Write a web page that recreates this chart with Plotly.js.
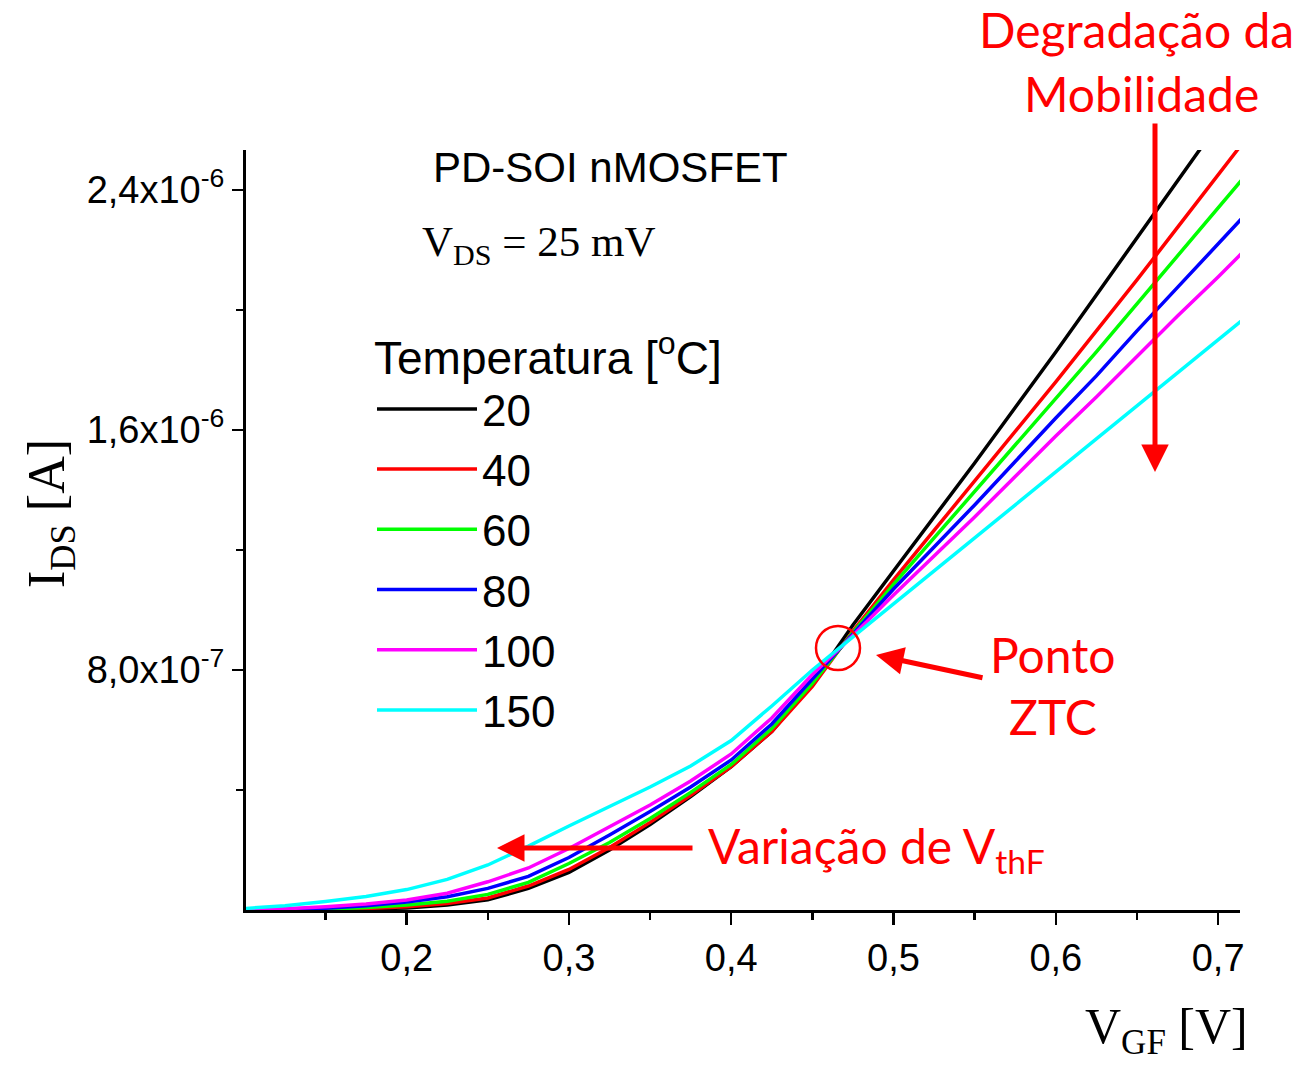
<!DOCTYPE html>
<html>
<head>
<meta charset="utf-8">
<script src="https://cdn.plot.ly/plotly-3.0.1.min.js"></script>
<style>
html,body{margin:0;padding:0;background:#fff;}
#chart{width:1306px;height:1074px;}
</style>
</head>
<body>
<div id="chart"></div>
<script>
// ---- data ----
const vgf = [0.100,0.125,0.150,0.175,0.200,0.225,0.250,0.275,0.300,0.325,0.350,0.375,0.400,
             0.425,0.450,0.475,0.500,0.525,0.550,0.575,0.600,0.625,0.650,0.675,0.700,0.725];

const temperatures = ['20','40','60','80','100','150'];

const ids_20  = [0,0,0.01e-7,0.03e-7,0.07e-7,0.17e-7,0.34e-7,0.72e-7,1.25e-7,2.00e-7,2.85e-7,3.78e-7,4.78e-7,
                 5.95e-7,7.55e-7,9.50e-7,11.3e-7,13.1e-7,14.9e-7,16.75e-7,18.6e-7,20.5e-7,22.4e-7,24.3e-7,26.2e-7,28.1e-7];
const ids_40  = [0,0,0.02e-7,0.05e-7,0.11e-7,0.22e-7,0.40e-7,0.80e-7,1.35e-7,2.08e-7,2.92e-7,3.82e-7,4.78e-7,
                 5.95e-7,7.45e-7,9.30e-7,11.0e-7,12.65e-7,14.3e-7,15.95e-7,17.6e-7,19.3e-7,21.0e-7,22.75e-7,24.5e-7,26.25e-7];
const ids_60  = [0,0.01e-7,0.03e-7,0.08e-7,0.17e-7,0.29e-7,0.52e-7,0.92e-7,1.55e-7,2.25e-7,3.05e-7,3.92e-7,4.85e-7,
                 6.05e-7,7.55e-7,9.25e-7,10.85e-7,12.4e-7,13.95e-7,15.5e-7,17.05e-7,18.6e-7,20.2e-7,21.8e-7,23.4e-7,25.0e-7];
const ids_80  = [0,0.02e-7,0.06e-7,0.14e-7,0.27e-7,0.44e-7,0.72e-7,1.12e-7,1.75e-7,2.50e-7,3.28e-7,4.10e-7,5.00e-7,
                 6.20e-7,7.70e-7,9.20e-7,10.7e-7,12.1e-7,13.5e-7,14.95e-7,16.4e-7,17.8e-7,19.3e-7,20.75e-7,22.2e-7,23.65e-7];
const ids_100 = [0,0.04e-7,0.11e-7,0.20e-7,0.33e-7,0.56e-7,0.94e-7,1.40e-7,2.05e-7,2.78e-7,3.50e-7,4.30e-7,5.20e-7,
                 6.40e-7,7.85e-7,9.15e-7,10.5e-7,11.8e-7,13.1e-7,14.45e-7,15.8e-7,17.1e-7,18.45e-7,19.8e-7,21.1e-7,22.45e-7];
const ids_150 = [0.05e-7,0.14e-7,0.28e-7,0.45e-7,0.68e-7,1.02e-7,1.50e-7,2.13e-7,2.80e-7,3.45e-7,4.10e-7,4.80e-7,5.65e-7,
                 6.80e-7,8.00e-7,9.10e-7,10.2e-7,11.3e-7,12.4e-7,13.5e-7,14.6e-7,15.7e-7,16.8e-7,17.9e-7,19.0e-7,20.1e-7];

const xTickVals = [0.2,0.3,0.4,0.5,0.6,0.7];
const xTickText = ['0,2','0,3','0,4','0,5','0,6','0,7'];
const yTickVals = [8e-7,1.6e-6,2.4e-6];
const yTickText = ['8,0x10<sup>-7</sup>','1,6x10<sup>-6</sup>','2,4x10<sup>-6</sup>'];
const yMinorVals = [4e-7,1.2e-6,2.0e-6];

// ---- styles ----
const seriesColors = ['#000000','#ff0000','#00ff00','#0000ff','#ff00ff','#00ffff'];
const allIds = [ids_20, ids_40, ids_60, ids_80, ids_100, ids_150];

const traces = allIds.map((ys,i)=>({
  type:'scatter', mode:'lines', x:vgf, y:ys, name:temperatures[i],
  line:{color:seriesColors[i], width:3.5}
}));

// plot area in pixels
const L=246, R=1240, T=150, B=910;
function px(x){return (x-L)/(R-L);}
function py(y){return (B-y)/(B-T);}

const sans = 'Liberation Sans, Arial, sans-serif';
const serif = 'Liberation Serif, Times New Roman, serif';
const redFont = 'Lato, Carlito, Calibri, sans-serif';
const RED = '#ff0000';

const annotations = [
  {xref:'paper',yref:'paper',x:px(610),y:py(168),xanchor:'center',yanchor:'middle',showarrow:false,
   text:'PD-SOI nMOSFET',font:{family:sans,size:42,color:'#000'}},
  {xref:'paper',yref:'paper',x:px(420),y:py(245),xanchor:'left',yanchor:'middle',showarrow:false,
   text:'V<sub>DS</sub> = 25 mV',font:{family:serif,size:43,color:'#000'}},
  // axis titles
  {xref:'paper',yref:'paper',x:px(1250),y:py(1030),xanchor:'right',yanchor:'middle',showarrow:false,
   text:'V<sub>GF</sub> [V]',font:{family:serif,size:50,color:'#000'}},
  {xref:'paper',yref:'paper',x:px(50),y:py(514),xanchor:'center',yanchor:'middle',showarrow:false,textangle:-90,
   text:'I<sub>DS</sub> [A]',font:{family:serif,size:52,color:'#000'}},
  // red annotations
  {xref:'paper',yref:'paper',x:px(1136),y:py(30),xanchor:'center',yanchor:'middle',showarrow:false,
   text:'Degradação da',font:{family:redFont,size:48,color:RED}},
  {xref:'paper',yref:'paper',x:px(1141),y:py(93),xanchor:'center',yanchor:'middle',showarrow:false,
   text:'Mobilidade',font:{family:redFont,size:48,color:RED}},
  {xref:'paper',yref:'paper',x:px(1053),y:py(654),xanchor:'center',yanchor:'middle',showarrow:false,
   text:'Ponto',font:{family:redFont,size:48,color:RED}},
  {xref:'paper',yref:'paper',x:px(1053),y:py(716),xanchor:'center',yanchor:'middle',showarrow:false,
   text:'ZTC',font:{family:redFont,size:48,color:RED}},
  {xref:'paper',yref:'paper',x:px(706),y:py(849),xanchor:'left',yanchor:'middle',showarrow:false,
   text:'Variação de V<sub>thF</sub>',font:{family:redFont,size:48,color:RED}},
  // arrows
  {xref:'paper',yref:'paper',x:px(1155),y:py(472),ax:0,ay:-350,text:'',showarrow:true,
   arrowhead:2,arrowsize:1.1,arrowwidth:5,arrowcolor:RED},
  {xref:'paper',yref:'paper',x:px(876),y:py(655),ax:108,ay:23,text:'',showarrow:true,
   arrowhead:2,arrowsize:1.1,arrowwidth:5,arrowcolor:RED},
  {xref:'paper',yref:'paper',x:px(497),y:py(848),ax:197,ay:0,text:'',showarrow:true,
   arrowhead:2,arrowsize:1.1,arrowwidth:5,arrowcolor:RED}
];

const shapes = [
  {type:'circle',xref:'paper',yref:'paper',x0:px(816),x1:px(860),y0:py(670),y1:py(626),
   line:{color:RED,width:2.5}}
];

const layout = {
  width:1306, height:1074,
  margin:{l:L, r:1306-R, t:T, b:1074-B, pad:0},
  paper_bgcolor:'#ffffff', plot_bgcolor:'#ffffff',
  showlegend:true,
  legend:{
    x:px(372), y:py(314), xanchor:'left', yanchor:'top',
    bgcolor:'rgba(0,0,0,0)', borderwidth:0,
    itemwidth:100,
    font:{family:sans,size:44,color:'#000'},
    title:{text:'Temperatura [<sup>o</sup>C]', font:{family:sans,size:46,color:'#000'}},
    tracegroupgap:0
  },
  xaxis:{
    range:[0.101,0.7135], showgrid:false, zeroline:false,
    showline:true, linecolor:'#000', linewidth:3,
    ticks:'outside', ticklen:12, tickwidth:2.5, tickcolor:'#000',
    tickmode:'array', tickvals:xTickVals, ticktext:xTickText,
    tickfont:{family:sans,size:38,color:'#000'},
    minor:{tickmode:'linear', tick0:0.15, dtick:0.1, ticks:'outside', ticklen:7, tickwidth:2.5, tickcolor:'#000', showgrid:false}
  },
  yaxis:{
    range:[0,2.533e-6], showgrid:false, zeroline:false,
    showline:true, linecolor:'#000', linewidth:3,
    ticks:'outside', ticklen:11, tickwidth:2.5, tickcolor:'#000',
    tickmode:'array', tickvals:yTickVals, ticktext:yTickText,
    tickfont:{family:sans,size:38,color:'#000'},
    minor:{tickmode:'array', tickvals:yMinorVals, ticks:'outside', ticklen:7, tickwidth:2.5, tickcolor:'#000', showgrid:false}
  },
  annotations:annotations,
  shapes:shapes
};

Plotly.newPlot('chart', traces, layout, {displayModeBar:false, staticPlot:true});
</script>
</body>
</html>
